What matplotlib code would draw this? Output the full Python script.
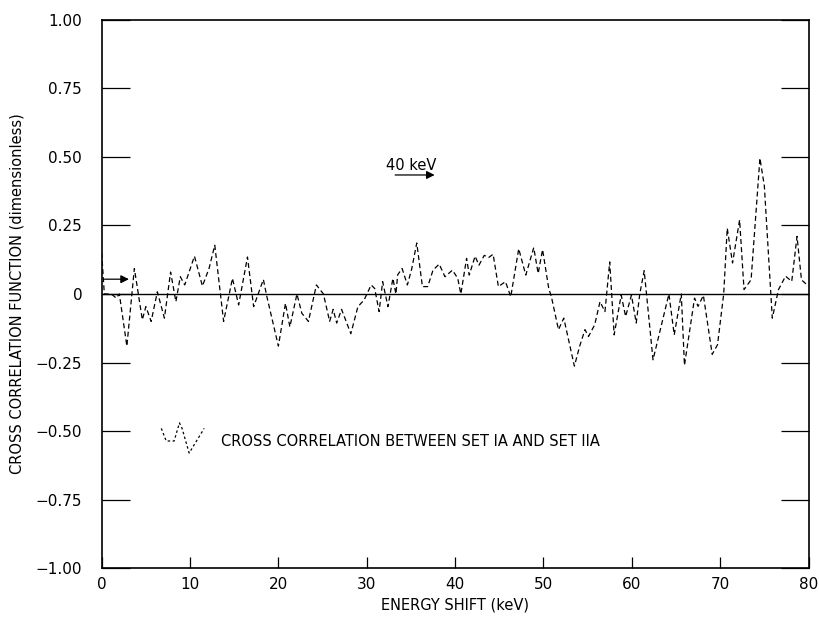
import matplotlib
matplotlib.use("Agg")
import matplotlib.pyplot as plt

# Energy shift (keV) and cross-correlation values
energy = [0.0, 0.3, 1.1, 1.65, 2.0, 2.85, 3.7, 4.6, 5.0, 5.6, 6.3, 7.1, 7.8, 8.4, 8.9, 9.4,
          10.5, 11.4, 12.15, 12.8, 13.8, 14.8, 15.5, 16.5, 17.2, 18.3, 18.7, 20.0, 20.8, 21.3,
          22.1, 22.65, 23.4, 24.3, 25.1, 25.8, 26.2, 26.6, 27.15, 28.2, 29.0, 29.7, 30.5, 30.9,
          31.4, 31.8, 32.4, 32.96, 33.3, 33.5, 34.0, 34.6, 35.1, 35.66, 36.3, 36.9, 37.5, 38.2,
          38.85, 39.7, 40.3, 40.65, 41.3, 41.6, 42.26, 42.7, 43.3, 43.8, 44.3, 44.9, 45.7, 46.3,
          47.2, 48.0, 48.9, 49.4, 49.9, 50.6, 50.9, 51.7, 52.3, 53.5, 54.1, 54.7, 55.1, 55.8,
          56.4, 56.96, 57.5, 58.0, 58.8, 59.3, 59.96, 60.5, 60.9, 61.4, 62.4, 64.2, 64.8, 65.6,
          65.96, 67.1, 67.5, 68.1, 69.1, 69.7, 70.4, 70.8, 71.4, 72.2, 72.7, 73.5, 74.5, 75.0,
          75.9, 76.6, 77.4, 78.1, 78.7, 79.2, 79.8]
corr = [0.15, 0.0, 0.0, -0.015, 0.0, -0.19, 0.093, -0.094, -0.046, -0.10, 0.008, -0.088, 0.08,
        -0.028, 0.063, 0.033, 0.138, 0.029, 0.093, 0.178, -0.10, 0.057, -0.04, 0.135, -0.046,
        0.053, -0.01, -0.19, -0.034, -0.12, 0.0, -0.07, -0.10, 0.033, 0.0, -0.10, -0.056, -0.106,
        -0.056, -0.145, -0.046, -0.022, 0.033, 0.02, -0.064, 0.045, -0.046, 0.057, 0.0, 0.07,
        0.093, 0.033, 0.093, 0.186, 0.027, 0.027, 0.087, 0.109, 0.063, 0.087, 0.057, 0.0, 0.13,
        0.069, 0.138, 0.105, 0.141, 0.133, 0.145, 0.027, 0.045, -0.01, 0.165, 0.069, 0.169,
        0.075, 0.162, 0.02, -0.01, -0.13, -0.088, -0.263, -0.19, -0.13, -0.155, -0.112, -0.028,
        -0.064, 0.117, -0.149, -0.004, -0.082, -0.004, -0.106, 0.0, 0.085, -0.24, 0.0, -0.149,
        0.0, -0.26, -0.015, -0.045, -0.005, -0.22, -0.185, 0.0, 0.24, 0.113, 0.27, 0.016, 0.052,
        0.495, 0.394, -0.088, 0.016, 0.065, 0.046, 0.21, 0.052, 0.034]

# legend sample squiggle (in data units)
legend_x = [6.75, 7.3, 8.2, 8.8, 9.1, 9.9, 11.6]
legend_y = [-0.49, -0.536, -0.536, -0.47, -0.49, -0.58, -0.49]

xticks = [0, 10, 20, 30, 40, 50, 60, 70, 80]
yticks = [1.00, 0.75, 0.50, 0.25, 0, -0.25, -0.50, -0.75, -1.00]
ytick_labels = ["1.00", "0.75", "0.50", "0.25", "0", "\u22120.25", "\u22120.50", "\u22120.75", "\u22121.00"]

fig = plt.figure(figsize=(8.2, 6.17), dpi=100)
ax = fig.add_axes([0.124, 0.079, 0.862, 0.889])

ax.plot(energy, corr, color="black", lw=0.9, linestyle=(0, (4, 2.5)))
ax.plot([0, 80], [0, 0], color="black", lw=1.0)
ax.plot(legend_x, legend_y, color="black", lw=0.9, linestyle=(0, (2, 2)))

ax.set_xlim(0, 80)
ax.set_ylim(-1, 1)
ax.set_xticks(xticks)
ax.set_xticklabels([str(t) for t in xticks], fontsize=11)
ax.set_yticks(yticks)
ax.set_yticklabels(ytick_labels, fontsize=11)
ax.tick_params(axis="y", direction="in", length=20, width=0.9, right=True, pad=14)
ax.tick_params(axis="x", direction="in", length=8, width=0.9, pad=6)
for s in ax.spines.values():
    s.set_linewidth(1.2)

ax.set_xlabel("ENERGY SHIFT (keV)", fontsize=10.5, labelpad=4)
ax.set_ylabel("CROSS CORRELATION FUNCTION (dimensionless)", fontsize=10.5, labelpad=8)

# arrows
ax.annotate("", xy=(3.4, 0.054), xytext=(0, 0.054),
            arrowprops=dict(arrowstyle="-|>", color="black", lw=0.9, mutation_scale=12))
ax.annotate("", xy=(38.0, 0.434), xytext=(32.9, 0.434),
            arrowprops=dict(arrowstyle="-|>", color="black", lw=0.9, mutation_scale=12))
ax.text(35.0, 0.47, "40 keV", fontsize=10.5, ha="center", va="center")

ax.text(13.5, -0.536, "CROSS CORRELATION BETWEEN SET IA AND SET IIA",
        fontsize=10.5, ha="left", va="center")

fig.savefig("out.png", dpi=100)
